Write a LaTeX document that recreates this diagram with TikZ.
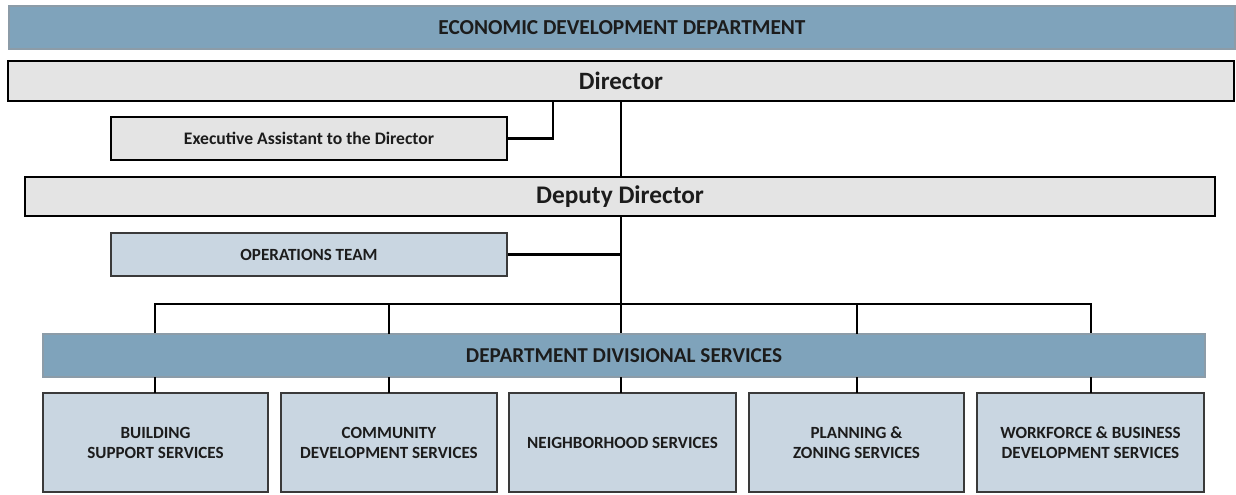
\documentclass[tikz,border=0pt]{standalone}
\usepackage{fontspec}
\setmainfont{Carlito}
\begin{document}
\begin{tikzpicture}[x=0.75pt,y=-0.75pt,
  font=\bfseries,
  banner/.style={draw=bannerline,line width=0.8pt,fill=bannerfill,inner sep=0pt,text=textdark},
  greybox/.style={draw=black,line width=1.3pt,fill=greyfill,inner sep=0pt,text=textdark},
  bluebox/.style={draw=boxline,line width=1.2pt,fill=bluefill,inner sep=0pt,text=textdark,align=center},
  link/.style={draw=black,line width=1.6pt}]
\definecolor{bannerfill}{HTML}{7FA3BB}
\definecolor{bannerline}{HTML}{8C9CA8}
\definecolor{greyfill}{HTML}{E4E4E4}
\definecolor{bluefill}{HTML}{C9D6E1}
\definecolor{boxline}{HTML}{3A3A3A}
\definecolor{textdark}{HTML}{1C1C1C}
\useasboundingbox[fill=white] (0,0) rectangle (1236,494);

% header banners and management boxes
\node[banner,minimum width=919.5pt,minimum height=32.25pt,font=\bfseries\fontsize{16}{18}\selectfont] (dept) at (622,27.5) {ECONOMIC DEVELOPMENT DEPARTMENT};
\node[greybox,minimum width=919.5pt,minimum height=30pt,font=\bfseries\fontsize{18.7}{21}\selectfont] (dir) at (621,81) {Director};
\node[greybox,minimum width=297pt,minimum height=32.25pt,font=\bfseries\fontsize{13.2}{15}\selectfont] (exec) at (309,138.5) {Executive Assistant to the Director};
\node[greybox,minimum width=892.5pt,minimum height=29.25pt,font=\bfseries\fontsize{19}{21}\selectfont] (dep) at (620,196.5) {Deputy Director};
\node[bluebox,minimum width=297pt,minimum height=32.25pt,font=\bfseries\fontsize{12.8}{15}\selectfont] (ops) at (309,254.5) {OPERATIONS TEAM};
\node[banner,minimum width=871.5pt,minimum height=32.25pt,font=\bfseries\fontsize{15.9}{18}\selectfont] (div) at (624,355.5) {DEPARTMENT DIVISIONAL SERVICES};

% divisions
\tikzset{divbox/.style={bluebox,minimum height=74.25pt,font=\bfseries\fontsize{12.8}{15}\selectfont}}
\node[divbox,minimum width=168.75pt] (bss) at (155.5,442.5) {BUILDING\\SUPPORT SERVICES};
\node[divbox,minimum width=162pt] (cds) at (389,442.5) {COMMUNITY\\DEVELOPMENT SERVICES};
\node[divbox,minimum width=170.25pt] (nhs) at (622.5,442.5) {NEIGHBORHOOD SERVICES};
\node[divbox,minimum width=161.25pt] (pzs) at (856.5,442.5) {PLANNING \&\\ZONING SERVICES};
\node[divbox,minimum width=170.25pt] (wbd) at (1090.5,442.5) {WORKFORCE \& BUSINESS\\DEVELOPMENT SERVICES};

% reporting lines
\coordinate (execdrop) at (553,101);
\coordinate (trunk) at (621,101);
\coordinate (busL) at (155,304);
\coordinate (busR) at (1091,304);
\draw[link] (execdrop) |- (exec.east);
\draw[link] (trunk) -- (trunk |- dep.north);
\draw[link] (dep.south -| trunk) -- (trunk |- div.north);
\draw[link] (ops.east) -- (ops.east -| trunk);
\draw[link] (busL |- div.north) -- (busL) -- (busR) -- (busR |- div.north);
\foreach \xx in {389,857} \draw[link] (\xx,304) -- (\xx,334);
\foreach \b/\xx in {bss/155,cds/389,nhs/621,pzs/857,wbd/1091}
  \draw[link] (\xx,377) -- (\xx,393);
\end{tikzpicture}
\end{document}
